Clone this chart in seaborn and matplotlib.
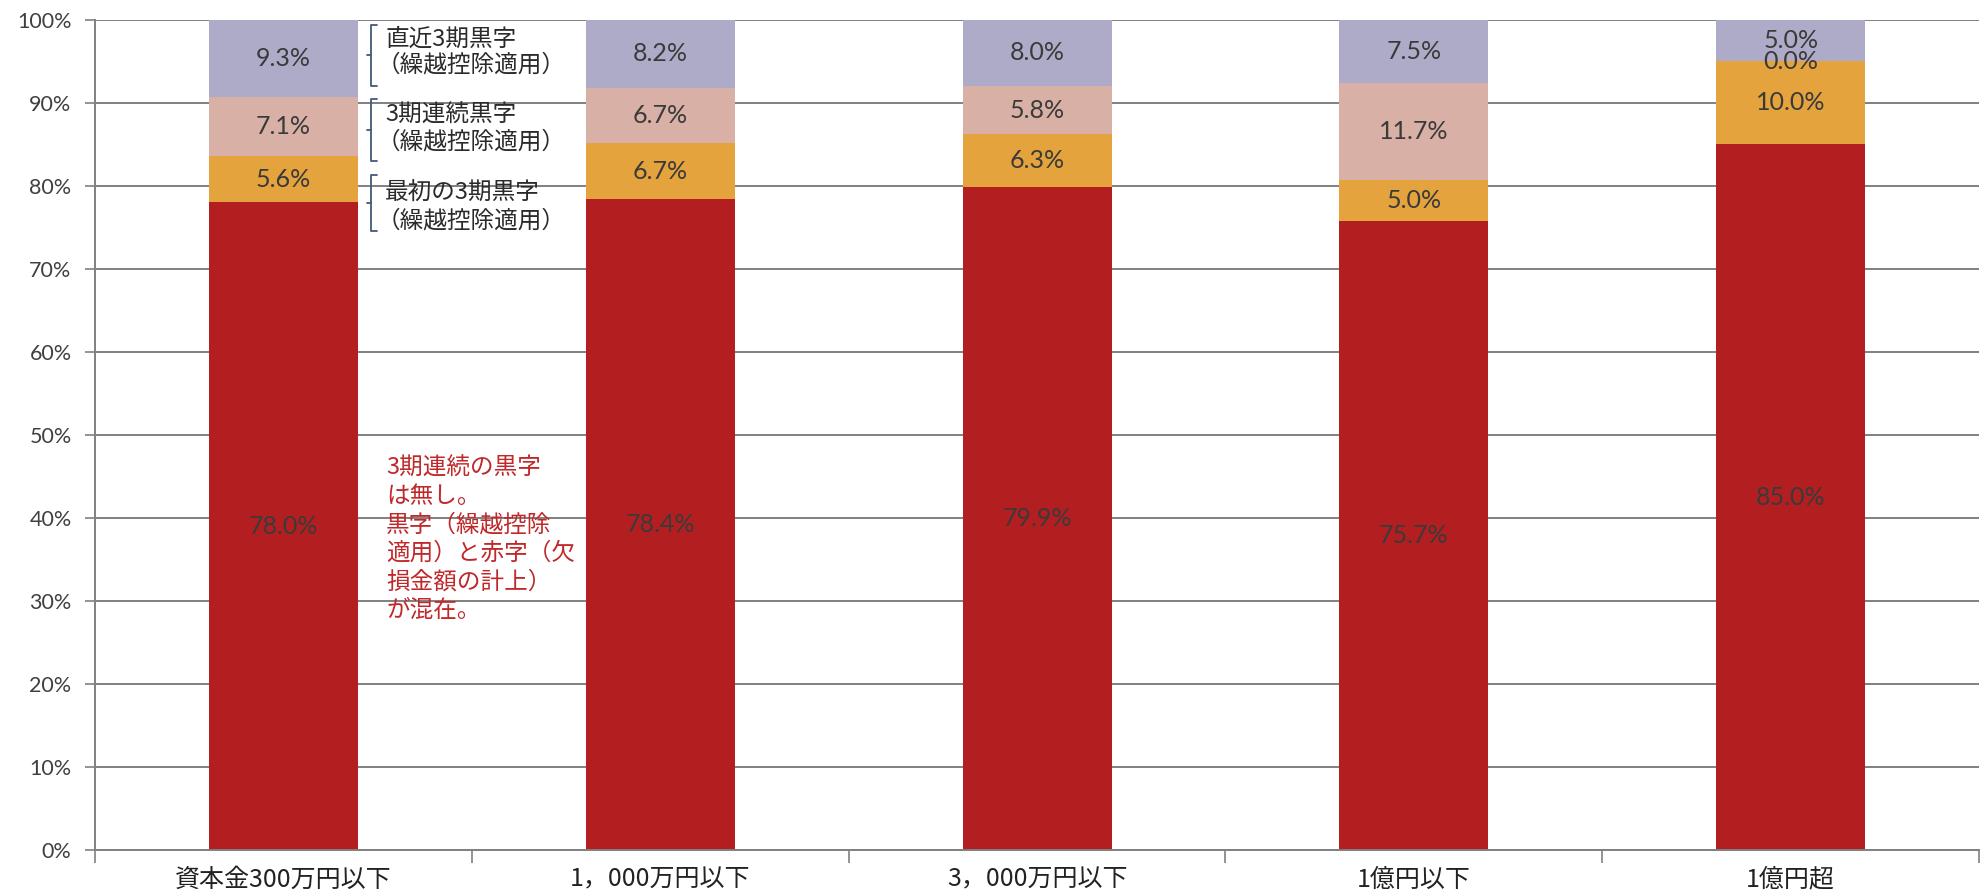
import matplotlib
matplotlib.use("Agg")
import matplotlib.pyplot as plt
import seaborn as sns
import numpy as np
import pandas as pd

# ---- data ----
categories = ["資本金300万円以下", "1，000万円以下", "3，000万円以下", "1億円以下", "1億円超"]
red_vals = [78.0, 78.4, 79.9, 75.7, 85.0]        # 赤字等
first3_vals = [5.6, 6.7, 6.3, 5.0, 10.0]          # 最初の3期黒字
consec3_vals = [7.1, 6.7, 5.8, 11.7, 0.0]         # 3期連続黒字
recent3_vals = [9.3, 8.2, 8.0, 7.5, 5.0]          # 直近3期黒字
ytick_vals = [0, 10, 20, 30, 40, 50, 60, 70, 80, 90, 100]
ytick_labels = [f"{v}%" for v in ytick_vals]

legend_line1 = ["直近3期黒字", "3期連続黒字", "最初の3期黒字"]
legend_line2 = ["（繰越控除適用）", "（繰越控除適用）", "（繰越控除適用）"]
note_text = "3期連続の黒字\nは無し。\n黒字（繰越控除\n適用）と赤字（欠\n損金額の計上）\nが混在。"

series = [red_vals, first3_vals, consec3_vals, recent3_vals]
colors = ["#B31F20", "#E4A33C", "#D8B0A6", "#AEABC8"]

sns.set_theme(style="white")
plt.rcParams["font.family"] = ["Lato", "Noto Sans CJK JP", "DejaVu Sans"]

fig = plt.figure(figsize=(19.83, 8.93), dpi=100)
ax = fig.add_axes([0.048, 0.048, 0.950, 0.930])

# stacked bars (draw cumulative totals from top down)
cum = np.cumsum(np.array(series), axis=0)
for k in range(len(series) - 1, -1, -1):
    df = pd.DataFrame({"cat": categories, "val": cum[k]})
    sns.barplot(data=df, x="cat", y="val", color=colors[k], width=0.395,
                saturation=1, ax=ax, zorder=2, linewidth=0)

# labels
for k in range(len(series)):
    below = cum[k] - np.array(series[k])
    for i, v in enumerate(series[k]):
        ax.text(i, below[i] + v / 2.0, f"{v:.1f}%", ha="center", va="center",
                fontsize=18, color="#3a3a3a", zorder=5,
                family=["Lato", "DejaVu Sans"])

ax.set_xlim(-0.5, 4.5)
ax.set_ylim(0, 100)
ax.set_yticks(ytick_vals)
ax.set_yticklabels(ytick_labels, fontsize=15.5, color="#404040")
ax.set_xticks(range(len(categories)))
ax.set_xticklabels(categories, fontsize=18, color="#222222",
                   family=["Noto Sans CJK JP", "DejaVu Sans"])
ax.set_xlabel("")
ax.set_ylabel("")

ax.yaxis.grid(True, color="#808080", linewidth=1.4, zorder=0)
ax.xaxis.grid(False)
ax.set_axisbelow(True)
ax.tick_params(axis="y", which="major", length=7, width=1.2, color="#808080",
               direction="out", pad=10, left=True)
ax.tick_params(axis="x", which="major", length=0, pad=12)
ax.set_xticks([-0.5, 0.5, 1.5, 2.5, 3.5, 4.5], minor=True)
ax.tick_params(axis="x", which="minor", length=9, width=1.2, color="#808080",
               direction="out", bottom=True)
for s in ["top", "right"]:
    ax.spines[s].set_visible(False)
for s in ["left", "bottom"]:
    ax.spines[s].set_color("#808080")
    ax.spines[s].set_linewidth(1.4)

# legend-like annotations with brackets
trans = ax.get_yaxis_transform()
def xfrac(px):
    return (px - 95.0) / (1979.0 - 95.0)

bracket_ranges = [(99.4, 92.0), (90.4, 83.0), (81.3, 74.5)]
line1_y = [97.6, 88.5, 79.1]
line2_y = [94.5, 85.3, 75.8]
bc = "#44587c"
for (top, bot), y1, y2, t1, t2 in zip(bracket_ranges, line1_y, line2_y,
                                        legend_line1, legend_line2):
    xb = xfrac(371)
    ax.plot([xb + 0.003, xb, xb, xb + 0.003], [top, top, bot, bot],
            transform=trans, color=bc, linewidth=1.3, zorder=6, clip_on=False)
    ax.plot([xb, xb - 0.002], [(top + bot) / 2, (top + bot) / 2],
            transform=trans, color=bc, linewidth=1.3, zorder=6, clip_on=False)
    ax.text(xfrac(385), y1, t1, transform=trans, ha="left", va="center",
            fontsize=17, color="#2a2a2a", zorder=6,
            family=["Noto Sans CJK JP", "DejaVu Sans"])
    ax.text(xfrac(376), y2, t2, transform=trans, ha="left", va="center",
            fontsize=17, color="#2a2a2a", zorder=6,
            family=["Noto Sans CJK JP", "DejaVu Sans"])

ax.text(xfrac(386), 47.4, note_text, transform=trans, ha="left", va="top",
        fontsize=17, color="#C0282A", linespacing=1.3, zorder=6,
        family=["Noto Sans CJK JP", "DejaVu Sans"])

fig.savefig("out.png", dpi=100, facecolor="white")
